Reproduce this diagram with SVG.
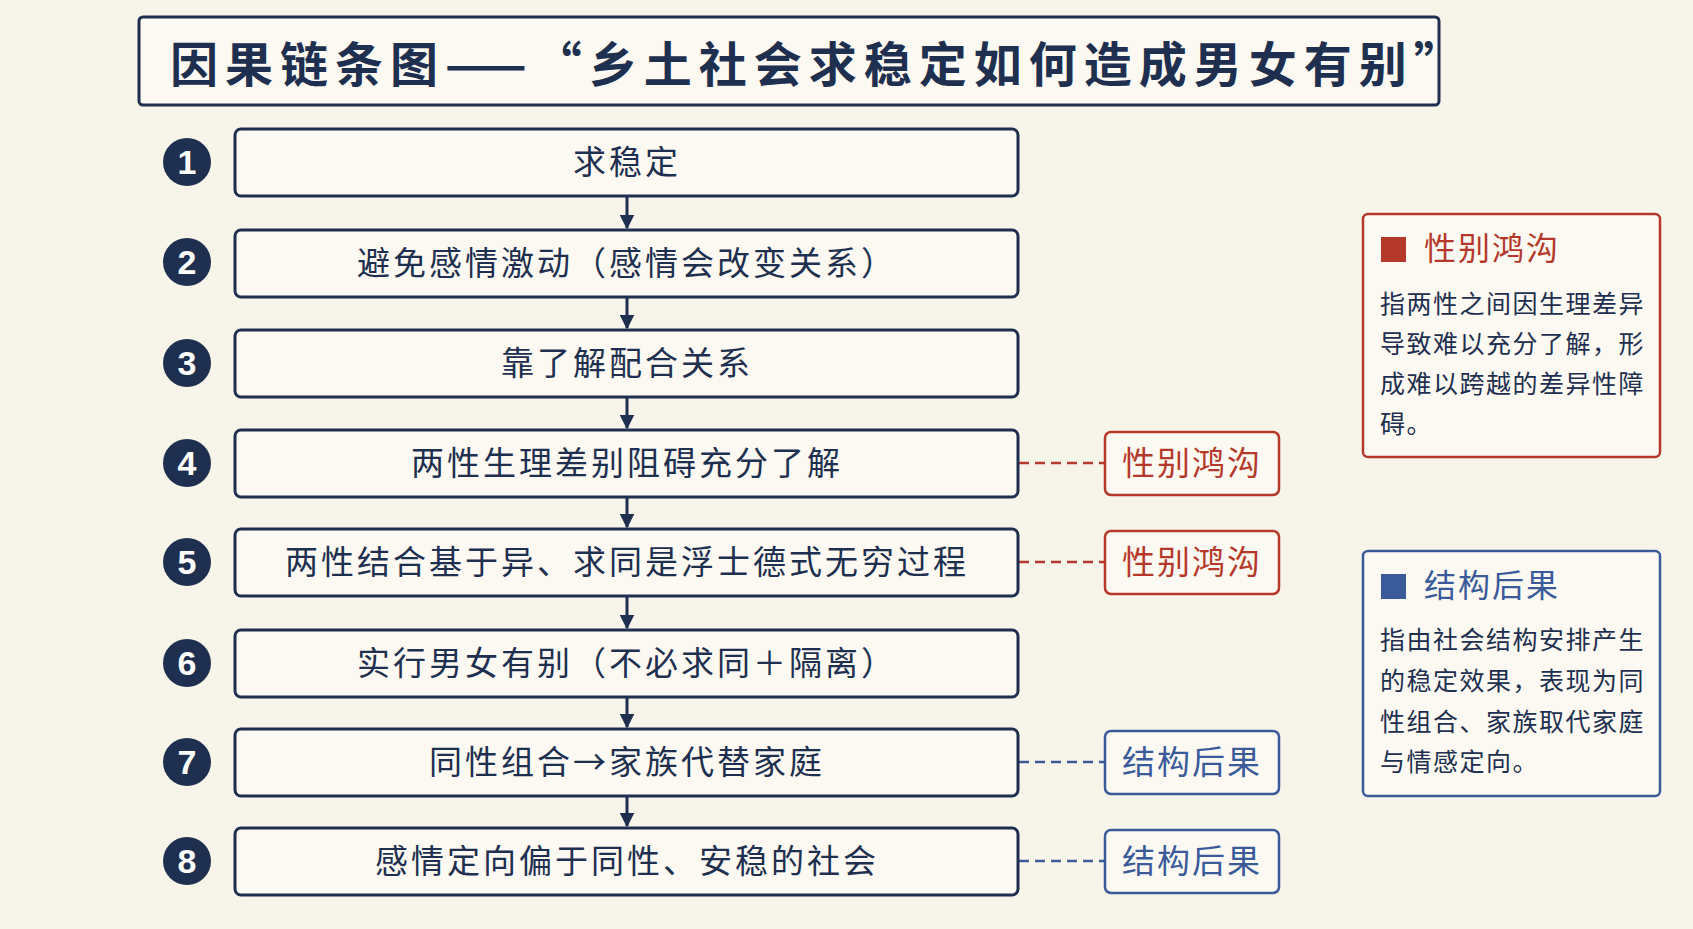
<svg xmlns="http://www.w3.org/2000/svg" width="1693" height="929" viewBox="0 0 1693 929">
<style>
.t{font-family:"Noto Sans CJK SC","Noto Sans",sans-serif;fill:#1e2f4f}
.box{fill:#fbf9f2;stroke:#1e2f4f;stroke-width:3}
.st{font-size:33px;text-anchor:middle;letter-spacing:3px}
.num{fill:#1e2f4f}
.nt{font-family:"Liberation Sans",sans-serif;font-size:34px;font-weight:bold;fill:#fff;text-anchor:middle}
.red{fill:#fbf9f2;stroke:#b5392b;stroke-width:2.5}
.blue{fill:#fbf9f2;stroke:#3a5a9a;stroke-width:2.5}
.rt{fill:#b5392b}.bt{fill:#3a5a9a}
.tag{font-size:33px;text-anchor:middle;letter-spacing:2px}
.body{font-size:25px;letter-spacing:1.5px}
</style>
<defs><marker id="ar" viewBox="0 0 10 10" refX="9" refY="5" markerWidth="5" markerHeight="5" orient="auto"><path d="M0,0L10,5L0,10z" fill="#1e2f4f"/></marker></defs>
<rect width="1693" height="929" fill="#f7f4ea"/>
<g id="title"><rect x="139" y="17" width="1300" height="88" rx="4" fill="#fbf9f2" stroke="#1e2f4f" stroke-width="3"/>
<text class="t" x="170" y="82" font-size="48" font-weight="bold" letter-spacing="7">因果链条图——“乡土社会求稳定如何造成男女有别”</text></g>
<g id="connectors" stroke="#1e2f4f" stroke-width="3" marker-end="url(#ar)">
<line x1="627" y1="197" x2="627" y2="228"/><line x1="627" y1="297" x2="627" y2="328"/><line x1="627" y1="397" x2="627" y2="428"/><line x1="627" y1="497" x2="627" y2="527"/><line x1="627" y1="596" x2="627" y2="628"/><line x1="627" y1="697" x2="627" y2="727"/><line x1="627" y1="796" x2="627" y2="826"/>
<g fill="none" stroke-dasharray="10,6" stroke-width="2.5" marker-end="none"><line x1="1019" y1="463" x2="1104" y2="463" stroke="#b5392b"/><line x1="1019" y1="562" x2="1104" y2="562" stroke="#b5392b"/><line x1="1019" y1="762" x2="1104" y2="762" stroke="#3a5a9a"/><line x1="1019" y1="861" x2="1104" y2="861" stroke="#3a5a9a"/></g>
</g>
<g id="s1"><circle class="num" cx="187" cy="162" r="24"/><text class="nt" x="187" y="174">1</text><rect class="box" x="235" y="129" width="783" height="67" rx="6"/><text class="t st" x="627" y="174">求稳定</text></g>
<g id="s2"><circle class="num" cx="187" cy="262" r="24"/><text class="nt" x="187" y="274">2</text><rect class="box" x="235" y="230" width="783" height="67" rx="6"/><text class="t st" x="627" y="275">避免感情激动（感情会改变关系）</text></g>
<g id="s3"><circle class="num" cx="187" cy="363" r="24"/><text class="nt" x="187" y="375">3</text><rect class="box" x="235" y="330" width="783" height="67" rx="6"/><text class="t st" x="627" y="375">靠了解配合关系</text></g>
<g id="s4"><circle class="num" cx="187" cy="463" r="24"/><text class="nt" x="187" y="475">4</text><rect class="box" x="235" y="430" width="783" height="67" rx="6"/><text class="t st" x="627" y="475">两性生理差别阻碍充分了解</text></g>
<g id="s5"><circle class="num" cx="187" cy="562" r="24"/><text class="nt" x="187" y="574">5</text><rect class="box" x="235" y="529" width="783" height="67" rx="6"/><text class="t st" x="627" y="574">两性结合基于异、求同是浮士德式无穷过程</text></g>
<g id="s6"><circle class="num" cx="187" cy="663" r="24"/><text class="nt" x="187" y="675">6</text><rect class="box" x="235" y="630" width="783" height="67" rx="6"/><text class="t st" x="627" y="675">实行男女有别（不必求同＋隔离）</text></g>
<g id="s7"><circle class="num" cx="187" cy="762" r="24"/><text class="nt" x="187" y="774">7</text><rect class="box" x="235" y="729" width="783" height="67" rx="6"/><text class="t st" x="627" y="774">同性组合→家族代替家庭</text></g>
<g id="s8"><circle class="num" cx="187" cy="861" r="24"/><text class="nt" x="187" y="873">8</text><rect class="box" x="235" y="828" width="783" height="67" rx="6"/><text class="t st" x="627" y="873">感情定向偏于同性、安稳的社会</text></g>
<g id="tag4"><rect class="red" x="1105" y="432" width="174" height="63" rx="6"/><text class="t tag rt" x="1192" y="475">性别鸿沟</text></g>
<g id="tag5"><rect class="red" x="1105" y="531" width="174" height="63" rx="6"/><text class="t tag rt" x="1192" y="574">性别鸿沟</text></g>
<g id="tag7"><rect class="blue" x="1105" y="731" width="174" height="63" rx="6"/><text class="t tag bt" x="1192" y="774">结构后果</text></g>
<g id="tag8"><rect class="blue" x="1105" y="830" width="174" height="63" rx="6"/><text class="t tag bt" x="1192" y="873">结构后果</text></g>
<g id="legend-red"><rect class="red" x="1363" y="214" width="297" height="243" rx="5"/><rect x="1381" y="237" width="25" height="25" fill="#b5392b"/><text class="t rt" x="1424" y="260" font-size="32" letter-spacing="2">性别鸿沟</text>
<text class="t body" x="1380" y="313">指两性之间因生理差异</text><text class="t body" x="1380" y="353">导致难以充分了解，形</text><text class="t body" x="1380" y="393">成难以跨越的差异性障</text><text class="t body" x="1380" y="433">碍。</text></g>
<g id="legend-blue"><rect class="blue" x="1363" y="551" width="297" height="245" rx="5"/><rect x="1381" y="574" width="25" height="25" fill="#3a5a9a"/><text class="t bt" x="1424" y="597" font-size="32" letter-spacing="2">结构后果</text>
<text class="t body" x="1380" y="649">指由社会结构安排产生</text><text class="t body" x="1380" y="690">的稳定效果，表现为同</text><text class="t body" x="1380" y="731">性组合、家族取代家庭</text><text class="t body" x="1380" y="771">与情感定向。</text></g>
</svg>
